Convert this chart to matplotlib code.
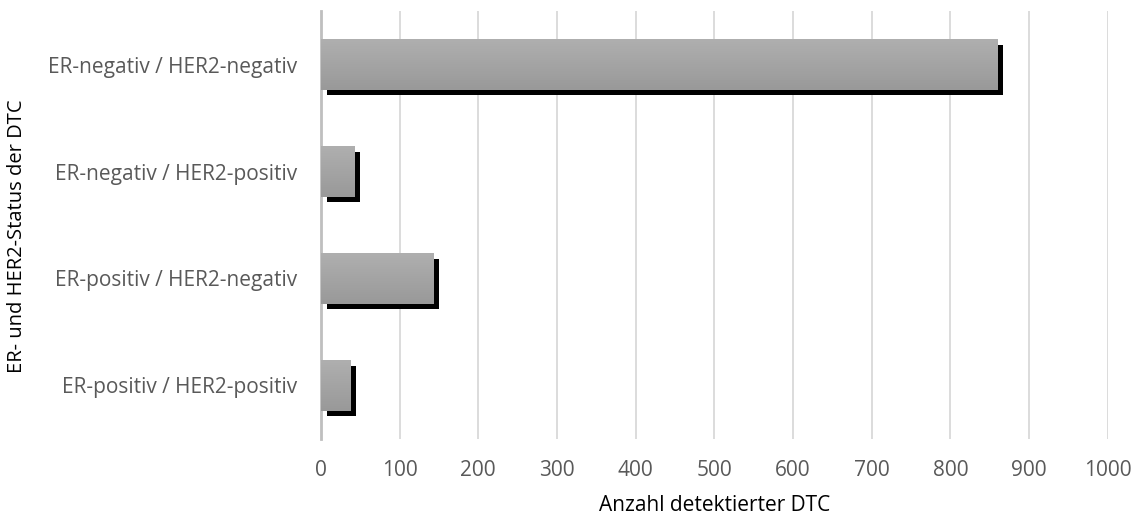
import matplotlib
matplotlib.use("Agg")
import matplotlib.pyplot as plt
import matplotlib.patheffects as pe
from matplotlib.colors import LinearSegmentedColormap
import numpy as np

categories = ["ER-negativ / HER2-negativ", "ER-negativ / HER2-positiv",
              "ER-positiv / HER2-negativ", "ER-positiv / HER2-positiv"]
values = [860, 43, 143, 38]
x_ticks = [0, 100, 200, 300, 400, 500, 600, 700, 800, 900, 1000]
x_label = "Anzahl detektierter DTC"
y_label = "ER- und HER2-Status der DTC"

plt.rcParams['font.family'] = ['Open Sans', 'DejaVu Sans']

fig = plt.figure(figsize=(11.41, 5.2), dpi=100)
ax = fig.add_axes([0.2813, 0.1558, 0.9708 - 0.2813, 0.9788 - 0.1558])

pos = np.arange(len(categories))
bars = ax.barh(pos, values, height=0.47, color='#a6a6a6', zorder=3,
               path_effects=[pe.SimplePatchShadow(offset=(4, -4), shadow_rgbFace='black', alpha=1.0),
                             pe.Normal()])

grad = np.linspace(0, 1, 64).reshape(-1, 1)
cmap = LinearSegmentedColormap.from_list("g", ["#afafaf", "#999999"])
for b in bars:
    x0, y0 = b.get_x(), b.get_y()
    w, h = b.get_width(), b.get_height()
    im = ax.imshow(grad, cmap=cmap, aspect='auto', extent=[x0, x0 + w, y0 + h, y0],
                   zorder=4, interpolation='bilinear')
    im.set_clip_path(b)

ax.set_xlim(0, 1000)
ax.set_ylim(len(categories) - 0.5, -0.5)
ax.set_xticks(x_ticks)
ax.set_xticklabels([str(t) for t in x_ticks])
ax.set_yticks(pos)
ax.set_yticklabels(categories)
ax.tick_params(axis='both', length=0, labelsize=15, labelcolor='#595959')
ax.tick_params(axis='x', pad=15)
ax.tick_params(axis='y', pad=17)
ax.grid(axis='x', color='#d9d9d9', linewidth=1.3, zorder=0)
ax.set_axisbelow(True)
for s in ['top', 'right', 'bottom']:
    ax.spines[s].set_visible(False)
ax.spines['left'].set_color('#bfbfbf')
ax.spines['left'].set_linewidth(2)
ax.spines['left'].set_zorder(2)

ax.set_xlabel(x_label, fontsize=15, color='black', labelpad=10)
ax.set_ylabel(y_label, fontsize=14.5, color='black')
ax.yaxis.set_label_coords(-0.374, 0.474)

fig.savefig("out.png", dpi=100)
